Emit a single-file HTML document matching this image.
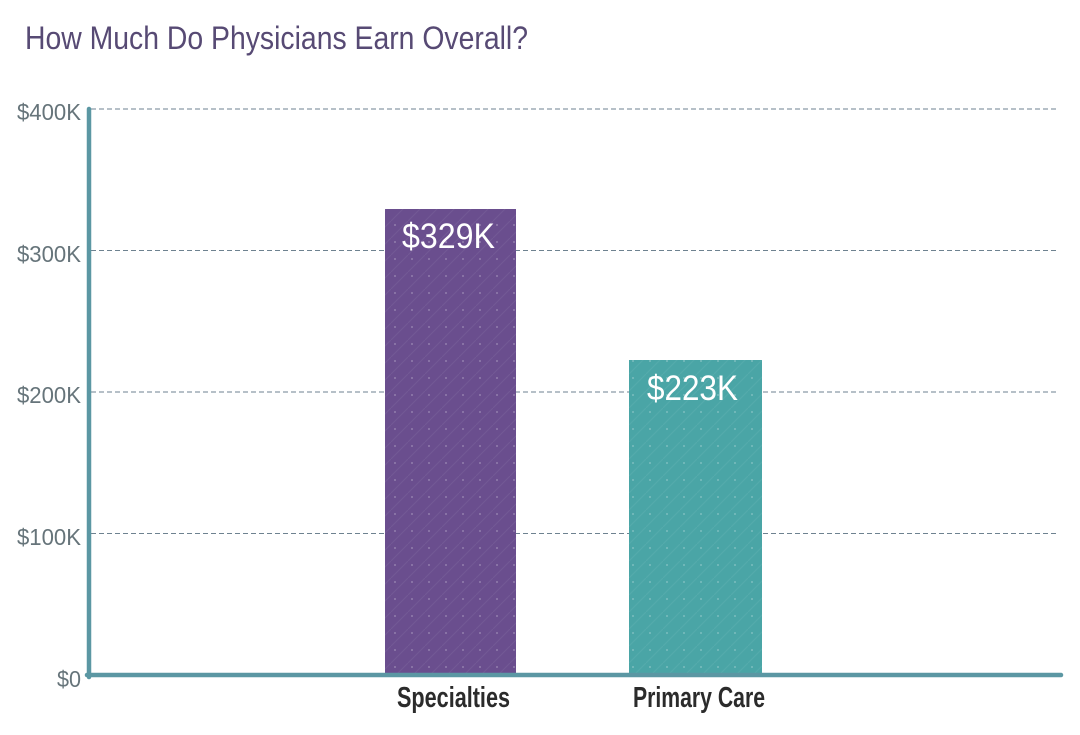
<!DOCTYPE html>
<html>
<head>
<meta charset="utf-8">
<style>
  html, body { margin: 0; padding: 0; background: #ffffff; }
  svg { display: block; }
  text { font-family: "Liberation Sans", "DejaVu Sans", sans-serif; }
</style>
</head>
<body>
<svg width="1080" height="735" viewBox="0 0 1080 735" xmlns="http://www.w3.org/2000/svg">
  <defs>
    <pattern id="dotsP" x="0" y="0" width="17" height="17" patternUnits="userSpaceOnUse">
      <circle cx="4" cy="4" r="0.9" fill="#ffffff" fill-opacity="0.35"/>
      <path d="M0 17 L17 0" stroke="#ffffff" stroke-opacity="0.06" stroke-width="1"/>
    </pattern>
  </defs>
  <rect x="0" y="0" width="1080" height="735" fill="#ffffff"/>

  <!-- Title -->
  <text x="25" y="49" font-size="32.5" fill="#574a74" textLength="503" lengthAdjust="spacingAndGlyphs">How Much Do Physicians Earn Overall?</text>

  <!-- Gridlines -->
  <g stroke="#6e8290" stroke-width="1" stroke-dasharray="5,3">
    <line x1="91" y1="109" x2="1058" y2="109"/>
    <line x1="91" y1="250.5" x2="1058" y2="250.5"/>
    <line x1="91" y1="392" x2="1058" y2="392"/>
    <line x1="91" y1="533.5" x2="1058" y2="533.5"/>
  </g>

  <!-- Y tick labels -->
  <g font-size="23.5" fill="#66747a" text-anchor="end">
    <text x="81" y="120" textLength="64" lengthAdjust="spacingAndGlyphs">$400K</text>
    <text x="81" y="262" textLength="64" lengthAdjust="spacingAndGlyphs">$300K</text>
    <text x="81" y="403" textLength="64" lengthAdjust="spacingAndGlyphs">$200K</text>
    <text x="81" y="545" textLength="64" lengthAdjust="spacingAndGlyphs">$100K</text>
    <text x="81" y="687" textLength="24" lengthAdjust="spacingAndGlyphs">$0</text>
  </g>

  <!-- Bars -->
  <rect x="385" y="209" width="131" height="466" fill="#6a4e8e"/>
  <rect x="385" y="209" width="131" height="466" fill="url(#dotsP)"/>
  <rect x="629" y="360" width="133" height="315" fill="#4aa5a6"/>
  <rect x="629" y="360" width="133" height="315" fill="url(#dotsP)"/>

  <!-- Bar value labels -->
  <text x="402" y="248" font-size="35" fill="#ffffff" textLength="93" lengthAdjust="spacingAndGlyphs">$329K</text>
  <text x="647" y="400" font-size="35" fill="#ffffff" textLength="91" lengthAdjust="spacingAndGlyphs">$223K</text>

  <!-- Axes -->
  <line x1="89" y1="109" x2="89" y2="677" stroke="#5b97a3" stroke-width="4.5" stroke-linecap="round"/>
  <line x1="87" y1="675" x2="1061" y2="675" stroke="#5b97a3" stroke-width="4.5" stroke-linecap="round"/>

  <!-- Category labels -->
  <g font-size="29" font-weight="bold" fill="#2b2b2b">
    <text x="397" y="707" textLength="113" lengthAdjust="spacingAndGlyphs">Specialties</text>
    <text x="633" y="707" textLength="132" lengthAdjust="spacingAndGlyphs">Primary Care</text>
  </g>
</svg>
</body>
</html>
